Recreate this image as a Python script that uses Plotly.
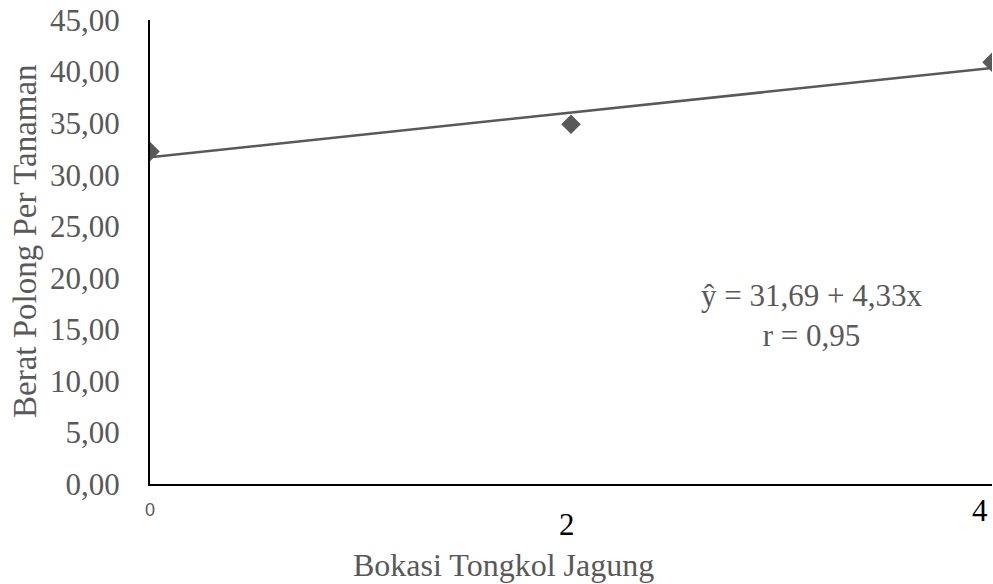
import plotly.graph_objects as go

# Data
doses = [0, 2, 4]
berat = [32.25, 34.9, 40.9]
intercept = 31.69
slope = 4.33  # per level step (level = dose / 2)
trend_x = [0, 4]
trend_y = [intercept + slope * (x / 2) for x in trend_x]
y_ticks = [0, 5, 10, 15, 20, 25, 30, 35, 40, 45]
y_labels = [f"{v:.2f}".replace(".", ",") for v in y_ticks]

GRAY = "#595959"
SERIF = "Liberation Serif"
FS = 31

L, R, T, B = 150, 1, 20, 100
PW, PH = 993 - L - R, 584 - T - B


def px(xpix):
    return (xpix - L) / PW


def py(ypix):
    return (584 - B - ypix) / PH


fig = go.Figure()
fig.add_trace(go.Scatter(x=trend_x, y=trend_y, mode="lines",
                         line=dict(color=GRAY, width=2.5), showlegend=False))
fig.add_trace(go.Scatter(x=doses, y=berat, mode="markers",
                         marker=dict(symbol="diamond", size=15, color=GRAY),
                         showlegend=False))

fig.update_layout(
    width=993, height=584,
    margin=dict(l=L, r=R, t=T, b=B),
    plot_bgcolor="white", paper_bgcolor="white",
    font=dict(family=SERIF, color=GRAY, size=FS),
    xaxis=dict(range=[0, 4], showgrid=False, zeroline=False,
               showline=True, linecolor="black", linewidth=2,
               showticklabels=False, ticks=""),
    yaxis=dict(range=[0, 45], tickvals=y_ticks, ticktext=y_labels,
               showgrid=False, zeroline=False, showline=True,
               linecolor="black", linewidth=2, ticks="",
               ticklabelstandoff=22,
               tickfont=dict(family=SERIF, size=FS, color=GRAY)),
)

fig.add_annotation(text="Berat Polong Per Tanaman", xref="paper", yref="paper",
                   x=px(25), y=py(241), textangle=-90, showarrow=False,
                   xanchor="center", yanchor="middle",
                   font=dict(family=SERIF, size=33, color=GRAY))
fig.add_annotation(text="Bokasi Tongkol Jagung", xref="paper", yref="paper",
                   x=px(503), y=py(565), showarrow=False,
                   xanchor="center", yanchor="middle",
                   font=dict(family=SERIF, size=32, color=GRAY))

# x tick labels (mixed styles as in reference)
fig.add_annotation(text="0", x=px(150), y=py(510), xref="paper", yref="paper",
                   showarrow=False, xanchor="center", yanchor="middle",
                   font=dict(family="Liberation Sans", size=18, color=GRAY))
fig.add_annotation(text="2", x=px(567), y=py(524), xref="paper", yref="paper",
                   showarrow=False, xanchor="center", yanchor="middle",
                   font=dict(family=SERIF, size=FS, color="black"))
fig.add_annotation(text="4", x=px(980), y=py(510), xref="paper", yref="paper",
                   showarrow=False, xanchor="center", yanchor="middle",
                   font=dict(family=SERIF, size=FS, color="black"))

fig.add_annotation(text="ŷ = 31,69 + 4,33x<br>r = 0,95", xref="paper", yref="paper",
                   x=px(811), y=py(315), showarrow=False,
                   xanchor="center", yanchor="middle", align="center",
                   font=dict(family=SERIF, size=FS, color=GRAY))

fig.write_html("out.html", config={"displayModeBar": False},
               post_script="document.body.style.margin='0';document.body.style.overflow='hidden';")
